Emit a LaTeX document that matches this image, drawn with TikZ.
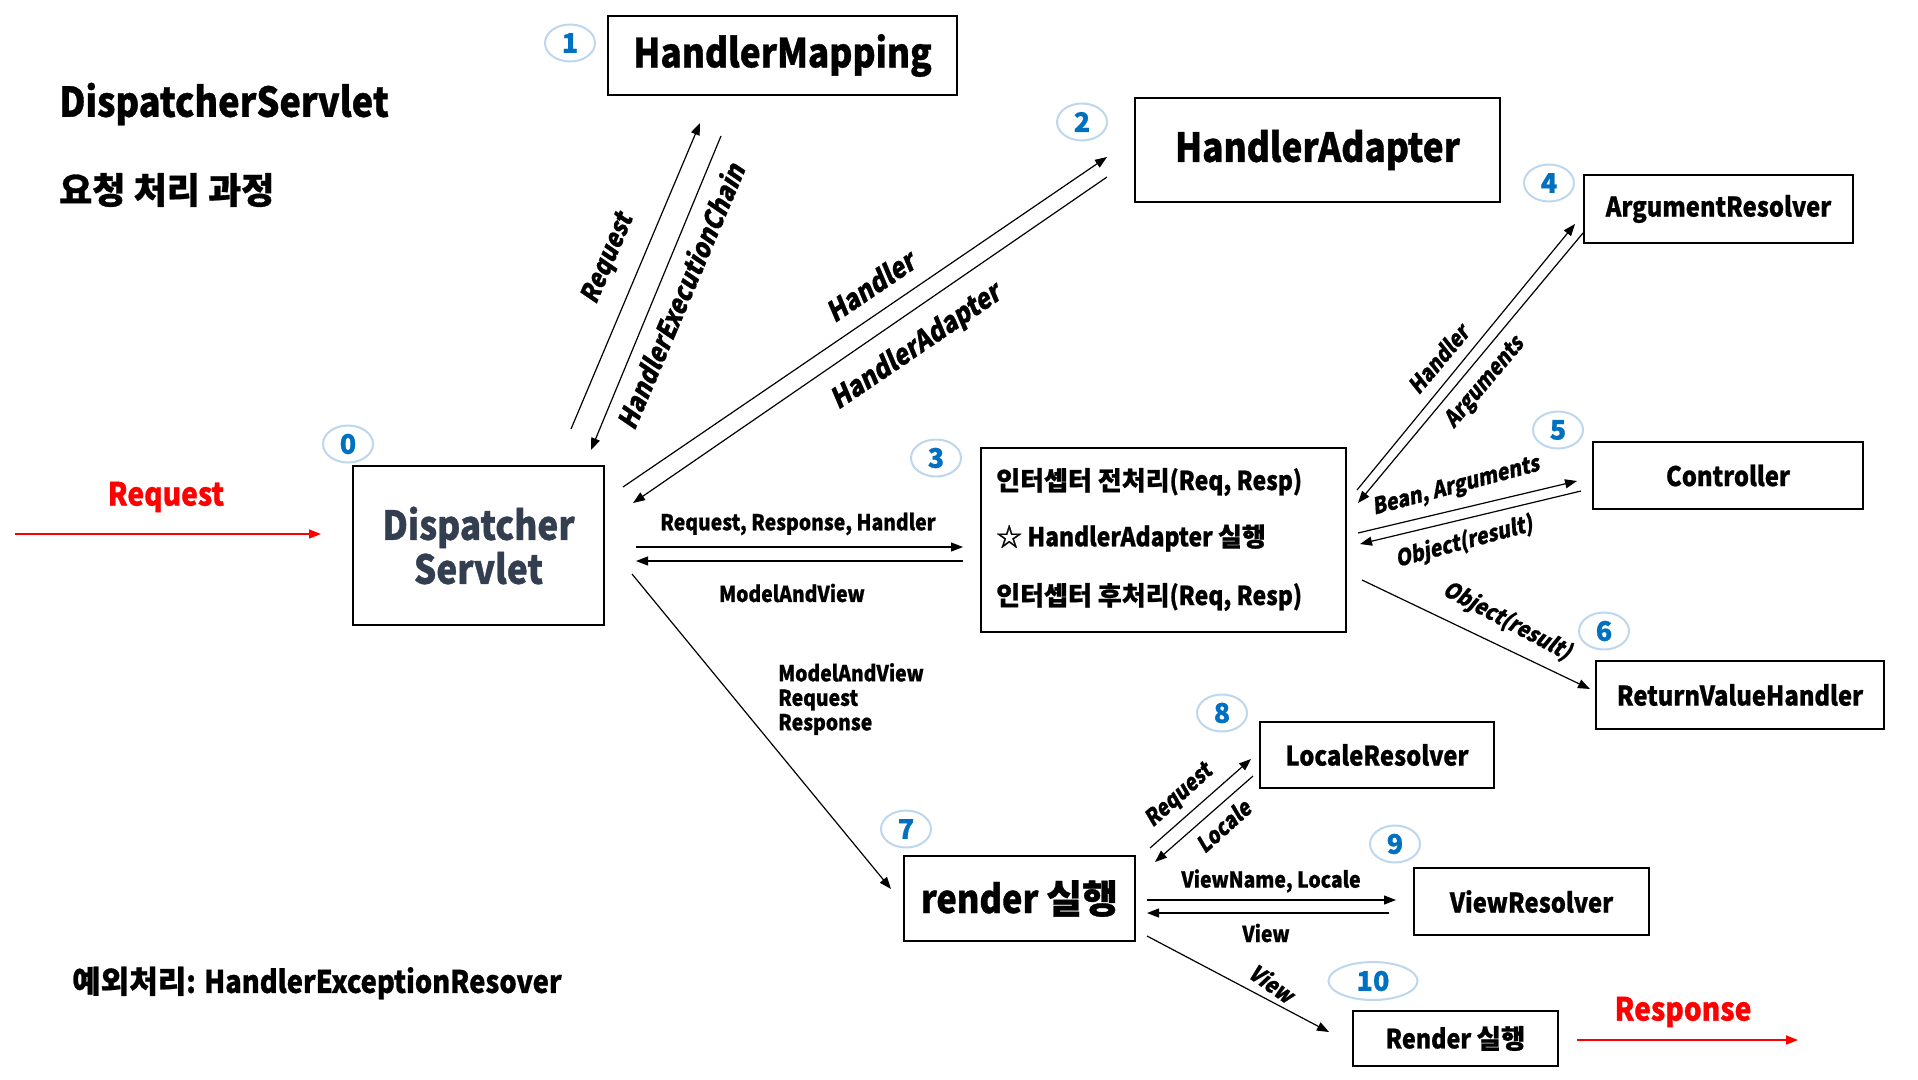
\documentclass[tikz,border=0pt]{standalone}
\usepackage{fontspec}
\setmainfont{Noto Sans CJK KR}[FakeStretch=0.88, BoldFeatures={FakeBold=0.8}]
\newfontfamily\kr{Noto Sans CJK KR}[BoldFeatures={FakeBold=0.8}]
\newfontfamily\slfont{Noto Sans CJK KR}[FakeSlant=0.2, FakeStretch=0.88, BoldFeatures={FakeBold=0.8}]
\usetikzlibrary{arrows.meta,shapes.geometric}
\definecolor{numblue}{HTML}{0070C0}
\definecolor{ringblue}{HTML}{BDD7EE}
\definecolor{dsgray}{HTML}{333F50}
\newcommand{\fsz}[2]{\fontsize{#1}{#2}\selectfont}
\tikzset{
  box/.style={draw=black, line width=2.5pt, inner sep=0pt, align=center},
  num/.style={ellipse, draw=ringblue, line width=2pt, minimum width=50pt, minimum height=37pt, inner sep=0pt, text=numblue, font=\kr\fsz{27}{29}\bfseries},
  arr/.style={line width=1.2pt, -{Triangle[length=12pt,width=9pt]}},
  redarr/.style={red, line width=1.6pt, -{Triangle[length=12pt,width=9pt]}},
  lbl/.style={font=\fsz{22}{24}\bfseries, inner sep=0pt},
  rlbl/.style={font=\slfont\fsz{27}{29}\bfseries, inner sep=0pt},
  slbl/.style={font=\slfont\fsz{22.5}{25}\bfseries, inner sep=0pt},
  ictext/.style={font=\fsz{26}{28}\bfseries, inner sep=0pt, anchor=west},
}
\begin{document}
\begin{tikzpicture}[x=1pt,y=-1pt]
\useasboundingbox (0,0) rectangle (1918,1079);
\fill[white] (0,0) rectangle (1918,1079);

% titles
\node[font=\fsz{41}{46}\bfseries, anchor=west, inner sep=0pt] (title) at (59,104) {DispatcherServlet};
\node[font=\kr\fsz{36}{40}\bfseries, anchor=west, inner sep=0pt] (subtitle) at (59,190) {요청 처리 과정};
\node[font=\fsz{31}{34}\bfseries, anchor=west, inner sep=0pt] (exc) at (72,983) {{\kr 예외처리}: HandlerExceptionResover};

% boxes
\node[box, minimum width=349pt, minimum height=79pt, font=\fsz{40}{44}\bfseries] (hm) at (782.5,55.5) {HandlerMapping};
\node[box, minimum width=365pt, minimum height=104pt, font=\fsz{40}{44}\bfseries] (ha) at (1317.5,150) {HandlerAdapter};
\node[box, minimum width=269pt, minimum height=68pt, font=\fsz{27}{30}\bfseries] (ar) at (1718.5,209) {ArgumentResolver};
\node[box, minimum width=251pt, minimum height=159pt, font=\fsz{40}{44}\bfseries, text=dsgray] (ds) at (478.5,545.5) {Dispatcher\\Servlet};
\node[box, minimum width=365pt, minimum height=184pt] (ic) at (1163.5,540) {};
\node[ictext] (ic1) at (996,482) {{\kr 인터셉터 전처리}(Req, Resp)};
\node[ictext] (ic2) at (996,538) {{\kr ☆} HandlerAdapter {\kr 실행}};
\node[ictext] (ic3) at (996,597) {{\kr 인터셉터 후처리}(Req, Resp)};
\node[box, minimum width=270pt, minimum height=67pt, font=\fsz{27}{29}\bfseries] (ct) at (1728,475.5) {Controller};
\node[box, minimum width=288pt, minimum height=68pt, font=\fsz{27}{29}\bfseries] (rv) at (1740,695) {ReturnValueHandler};
\node[box, minimum width=234pt, minimum height=66pt, font=\fsz{27}{29}\bfseries] (lr) at (1377,755) {LocaleResolver};
\node[box, minimum width=231pt, minimum height=85pt, font=\fsz{39}{41}\bfseries] (rd) at (1019.5,898.5) {render {\kr 실행}};
\node[box, minimum width=235pt, minimum height=67pt, font=\fsz{27}{29}\bfseries] (vr) at (1531.5,901.5) {ViewResolver};
\node[box, minimum width=205pt, minimum height=55pt, font=\fsz{26.5}{28}\bfseries] (rs) at (1455.5,1038.5) {Render {\kr 실행}};

% number rings
\node[num] (n0) at (348,444) {0};
\node[num] (n1) at (570,43) {1};
\node[num] (n2) at (1082,122) {2};
\node[num] (n3) at (936,458) {3};
\node[num] (n4) at (1549,183) {4};
\node[num] (n5) at (1558,430) {5};
\node[num] (n6) at (1604,631) {6};
\node[num] (n7) at (906,829) {7};
\node[num] (n8) at (1222,713) {8};
\node[num] (n9) at (1395,844) {9};
\node[num, minimum width=89pt, minimum height=38pt] (n10) at (1373,981) {10};

% connector end points
\coordinate (inS) at (15,534);   \coordinate (inE) at (321,534);
\coordinate (outS) at (1577,1040); \coordinate (outE) at (1798,1040);
\coordinate (a1s) at (571,429);  \coordinate (a1e) at (700,123);
\coordinate (a2s) at (721,136);  \coordinate (a2e) at (591,450);
\coordinate (a3s) at (623,487);  \coordinate (a3e) at (1107,157);
\coordinate (a4s) at (1107,177); \coordinate (a4e) at (633,503);
\coordinate (a5s) at (636,547);  \coordinate (a5e) at (963,547);
\coordinate (a6s) at (963,561);  \coordinate (a6e) at (636,561);
\coordinate (a7s) at (632,574);  \coordinate (a7e) at (891,889);
\coordinate (a8s) at (1357,490); \coordinate (a8e) at (1575,224);
\coordinate (a9s) at (1583,233); \coordinate (a9e) at (1358,503);
\coordinate (b1s) at (1358,533); \coordinate (b1e) at (1577,481);
\coordinate (b2s) at (1581,491); \coordinate (b2e) at (1360,544);
\coordinate (b3s) at (1362,580); \coordinate (b3e) at (1590,689);
\coordinate (c1s) at (1150,848); \coordinate (c1e) at (1251,759);
\coordinate (c2s) at (1253,776); \coordinate (c2e) at (1155,862);
\coordinate (d1s) at (1147,900); \coordinate (d1e) at (1396,900);
\coordinate (d2s) at (1389,913); \coordinate (d2e) at (1147,913);
\coordinate (e1s) at (1147,936); \coordinate (e1e) at (1329,1032);

% red in/out
\draw[redarr] (inS) -- (inE);
\node[font=\fsz{32}{34}\bfseries, text=red, inner sep=0pt] (reqin) at (166,497) {Request};
\draw[redarr] (outS) -- (outE);
\node[font=\fsz{32}{34}\bfseries, text=red, inner sep=0pt] (respout) at (1683,1012) {Response};

% arrows
\draw[arr] (a1s) -- (a1e);
\draw[arr] (a2s) -- (a2e);
\node[rlbl, font=\slfont\fsz{26}{28}\bfseries, rotate=67] (l1) at (608,259) {Request};
\node[rlbl, rotate=67] (l2) at (680,296) {HandlerExecutionChain};

\draw[arr] (a3s) -- (a3e);
\draw[arr] (a4s) -- (a4e);
\node[rlbl, font=\slfont\fsz{28}{30}\bfseries, rotate=34.3] (l3) at (870,286) {Handler};
\node[rlbl, font=\slfont\fsz{28}{30}\bfseries, rotate=34.3] (l4) at (916,347) {HandlerAdapter};

\draw[arr] (a5s) -- (a5e);
\draw[arr] (a6s) -- (a6e);
\node[lbl] (l5) at (798,524) {Request, Response, Handler};
\node[lbl] (l6) at (792,593) {ModelAndView};

\draw[arr] (a7s) -- (a7e);
\node[lbl, anchor=west, align=left, font=\fsz{22}{24.5}\bfseries] (l7) at (778,699) {ModelAndView\\Request\\Response};

\draw[arr] (a8s) -- (a8e);
\draw[arr] (a9s) -- (a9e);
\node[slbl, rotate=50] (l8) at (1438,359) {Handler};
\node[slbl, rotate=50] (l9) at (1485,383) {Arguments};

\draw[arr] (b1s) -- (b1e);
\draw[arr] (b2s) -- (b2e);
\node[slbl, rotate=15] (l10) at (1456,487) {Bean, Arguments};
\node[slbl, rotate=15] (l11) at (1464,542) {Object(result)};

\draw[arr] (b3s) -- (b3e);
\node[slbl, rotate=-28] (l12) at (1507,621) {Object(result)};

\draw[arr] (c1s) -- (c1e);
\draw[arr] (c2s) -- (c2e);
\node[slbl, rotate=42] (l13) at (1179,796) {Request};
\node[slbl, rotate=42] (l14) at (1223,826) {Locale};

\draw[arr] (d1s) -- (d1e);
\draw[arr] (d2s) -- (d2e);
\node[lbl] (l15) at (1271,881) {ViewName, Locale};
\node[lbl] (l16) at (1266,933) {View};

\draw[arr] (e1s) -- (e1e);
\node[slbl, rotate=-35] (l17) at (1272,983) {View};
\end{tikzpicture}
\end{document}
